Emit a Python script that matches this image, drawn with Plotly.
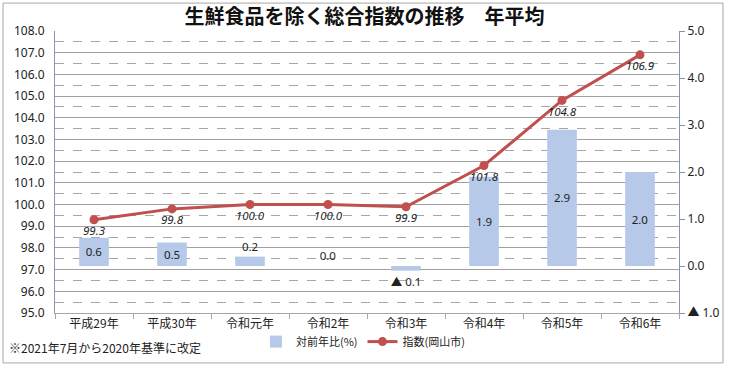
import plotly.graph_objects as go

categories = ["平成29年", "平成30年", "令和元年", "令和2年", "令和3年", "令和4年", "令和5年", "令和6年"]
index_values = [99.3, 99.8, 100.0, 100.0, 99.9, 101.8, 104.8, 106.9]
yoy_values = [0.6, 0.5, 0.2, 0.0, -0.1, 1.9, 2.9, 2.0]
left_ticks = [95.0, 96.0, 97.0, 98.0, 99.0, 100.0, 101.0, 102.0, 103.0, 104.0, 105.0, 106.0, 107.0, 108.0]
right_ticks = [-1.0, 0.0, 1.0, 2.0, 3.0, 4.0, 5.0]

def fmt(v):
    return ("▲ " if v < 0 else "") + f"{abs(v):.1f}"

bar_text = [fmt(v) for v in yoy_values]
bar_pos = ["inside" if abs(v) >= 0.4 else "outside" for v in yoy_values]

FONT = "Noto Sans, Noto Sans CJK JP, sans-serif"
JP = "Noto Sans CJK JP, sans-serif"

fig = go.Figure()
fig.add_trace(go.Bar(
    x=categories, y=yoy_values, yaxis="y", name="対前年比(%)",
    marker=dict(color="#b7c9e8", line=dict(width=0)),
    width=0.38,
    text=bar_text, textposition=bar_pos, insidetextanchor="middle",
    textfont=dict(family=FONT, size=11.5, color="#222222"),
    cliponaxis=False, constraintext="none",
))
fig.add_trace(go.Scatter(
    x=categories, y=index_values, yaxis="y2", name="指数(岡山市)",
    mode="lines+markers+text",
    line=dict(color="#c0504d", width=3),
    marker=dict(color="#c0504d", size=9),
    text=[f"{v:.1f}" for v in index_values], textposition="bottom center",
    textfont=dict(family=FONT, size=11.5, color="#222222", style="italic"),
    cliponaxis=False,
))

fig.update_layout(
    width=729, height=369,
    margin=dict(l=55, r=50, t=31, b=56, autoexpand=False),
    paper_bgcolor="white", plot_bgcolor="white",
    font=dict(family=FONT, size=11, color="#222222"),
    title=dict(text="<b>生鮮食品を除く総合指数の推移　年平均</b>", x=0.5, xanchor="center",
               xref="container", y=0.953, yanchor="middle", automargin=False,
               font=dict(family=JP, size=20, color="#111111")),
    bargap=0.6,
    showlegend=True,
    legend=dict(orientation="h", x=0.322, y=-0.05, xanchor="left", yanchor="top",
                font=dict(family=JP, size=11, color="#222222"), bgcolor="rgba(0,0,0,0)",
                itemwidth=30, tracegroupgap=0),
    xaxis=dict(type="category", showline=True, linecolor="#a6a6a6", linewidth=1,
               ticks="outside", tickson="boundaries", ticklen=5, tickcolor="#a6a6a6",
               automargin=False,
               tickfont=dict(family=JP, size=12, color="#222222"), showgrid=False),
    yaxis=dict(side="right", range=[-1, 5], tickvals=right_ticks, automargin=False,
               ticktext=[fmt(v) for v in right_ticks], showgrid=False, zeroline=False,
               showline=True, linecolor="#8496b0", linewidth=1, ticks="outside",
               ticklen=5, tickcolor="#8496b0", tickfont=dict(size=12, color="#222222")),
    yaxis2=dict(side="left", overlaying="y", range=[95, 108], tickvals=left_ticks,
                tickformat=".1f", showgrid=True, gridcolor="#a0a0a0", gridwidth=1,
                automargin=False, ticks="", ticklabelstandoff=7,
                zeroline=False, showline=True, linecolor="#8496b0", linewidth=1,
                tickfont=dict(size=12, color="#222222"),
                minor=dict(dtick=0.5, showgrid=True, gridcolor="#a6a6a6", griddash="dash")),
    shapes=[dict(type="rect", xref="paper", yref="paper", x0=-0.0833, x1=1.0705,
                 y0=-0.177, y1=1.099, line=dict(color="#a6a6a6", width=1))],
    annotations=[dict(text="※2021年7月から2020年基準に改定", xref="paper", yref="paper",
                      x=-0.077, y=-0.122, xanchor="left", yanchor="middle", showarrow=False,
                      font=dict(family=JP, size=12, color="#222222"))],
)

fig.write_html("out.html", config={"displayModeBar": False},
               post_script="document.body.style.margin='0';document.body.style.overflow='hidden';")
